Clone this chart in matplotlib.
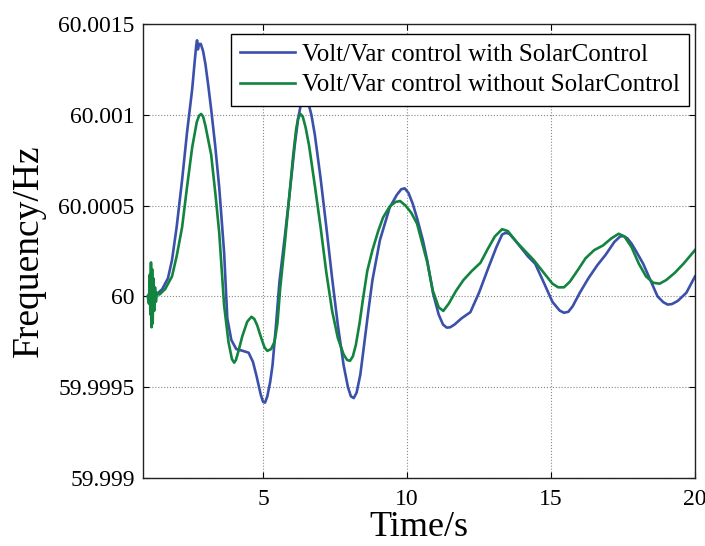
import matplotlib
matplotlib.use("Agg")
import matplotlib.pyplot as plt
from matplotlib.ticker import FixedLocator, FixedFormatter

plt.rcParams['font.family'] = ['Liberation Serif', 'DejaVu Serif']

# Frequency deviation from 60 Hz, in units of 1e-4 Hz
t_with = [1.0, 1.06, 1.1, 1.14, 1.2, 1.3, 1.5, 1.7, 1.84, 2.0, 2.19, 2.36, 2.54, 2.62, 2.68, 2.71,
          2.74, 2.78, 2.84, 2.92, 3.0, 3.1, 3.2, 3.34, 3.48, 3.65, 3.76, 3.9, 4.07, 4.3, 4.5,
          4.65, 4.77, 4.92, 5.0, 5.07, 5.15, 5.25, 5.33, 5.45, 5.57, 5.75, 5.92, 6.1, 6.22,
          6.33, 6.45, 6.55, 6.68, 6.8, 7.0, 7.2, 7.4, 7.6, 7.8, 7.95, 8.05, 8.15, 8.25, 8.38,
          8.5, 8.65, 8.8, 9.06, 9.4, 9.65, 9.8, 9.92, 10.05, 10.2, 10.35, 10.55, 10.7, 10.9,
          11.1, 11.25, 11.38, 11.5, 11.65, 11.9, 12.2, 12.5, 12.8, 13.1, 13.3, 13.42, 13.55,
          13.75, 13.9, 14.2, 14.45, 14.75, 15.05, 15.3, 15.45, 15.6, 15.75, 16.0, 16.3, 16.6,
          16.9, 17.2, 17.4, 17.52, 17.65, 17.8, 17.95, 18.2, 18.45, 18.7, 18.9, 19.05, 19.2,
          19.4, 19.7, 20.0]
d_with = [0.0, 0.2, -0.3, 0.3, -0.1, 0.1, 0.4, 1.0, 2.0, 3.8, 6.4, 9.0, 11.4, 12.8, 13.8, 14.1,
          13.6, 13.9, 13.9, 13.5, 12.8, 11.6, 10.3, 8.3, 6.0, 2.4, -1.2, -2.4, -2.9, -3.0, -3.1,
          -3.6, -4.35, -5.4, -5.8, -5.85, -5.5, -4.7, -3.8, -1.6, 0.8, 3.2, 5.6, 8.3, 9.8,
          10.7, 11.0, 10.8, 10.0, 8.9, 6.5, 3.8, 1.0, -1.6, -3.8, -5.0, -5.5, -5.6, -5.3, -4.3,
          -2.8, -0.9, 0.9, 3.1, 4.9, 5.6, 5.9, 5.95, 5.7, 5.1, 4.3, 3.1, 2.0, 0.2,
          -1.0, -1.55, -1.72, -1.7, -1.55, -1.2, -0.87, 0.2, 1.47, 2.7, 3.4, 3.5, 3.45,
          3.1, 2.8, 2.2, 1.8, 0.76, -0.3, -0.78, -0.9, -0.85, -0.55, 0.2, 1.0, 1.7,
          2.3, 3.0, 3.3, 3.32, 3.2, 2.9, 2.5, 1.8, 0.9, 0.0, -0.32, -0.45, -0.42,
          -0.25, 0.2, 1.1]

t_without = [1.0, 1.04, 1.07, 1.09, 1.11, 1.13, 1.15, 1.17, 1.19, 1.22, 1.25, 1.28, 1.32, 1.4,
             1.6, 1.84, 2.0, 2.19, 2.36, 2.54, 2.7, 2.78, 2.85, 2.92, 3.0, 3.2, 3.35, 3.48, 3.65,
             3.8, 3.92, 4.0, 4.06, 4.15, 4.28, 4.45, 4.5, 4.6, 4.7, 4.8, 4.94, 5.05, 5.15, 5.28,
             5.4, 5.5, 5.6, 5.75, 5.9, 6.05, 6.15, 6.22, 6.3, 6.38, 6.48, 6.6, 6.8, 7.0, 7.2,
             7.4, 7.6, 7.8, 7.92, 8.02, 8.12, 8.22, 8.35, 8.47, 8.62, 8.8, 9.0, 9.17, 9.4, 9.6,
             9.76, 9.95, 10.15, 10.35, 10.55, 10.7, 10.9, 11.1, 11.26, 11.45, 11.7, 11.96, 12.25,
             12.55, 12.8, 13.05, 13.3, 13.5, 13.8, 14.1, 14.4, 14.75, 15.05, 15.25, 15.45, 15.65,
             15.94, 16.2, 16.5, 16.8, 17.1, 17.35, 17.55, 17.8, 18.05, 18.3, 18.55, 18.77, 19.0,
             19.3, 19.6, 20.0]
d_without = [0.0, -0.4, 1.2, -1.0, 1.87, -1.7, 1.5, -1.5, 1.0, -0.8, 0.5, -0.3, 0.2, 0.1,
             0.4, 1.1, 2.2, 3.8, 6.0, 8.2, 9.6, 9.95, 10.05, 9.9, 9.4, 7.8, 5.6, 3.5, -0.5,
             -2.5, -3.45, -3.65, -3.5, -3.0, -2.2, -1.4, -1.3, -1.12, -1.25, -1.6, -2.3, -2.8,
             -3.0, -2.9, -2.5, -1.5, 0.5, 2.8, 5.3, 7.8, 9.2, 9.8, 10.05, 9.9, 9.3, 8.3, 6.1,
             3.8, 1.3, -0.8, -2.3, -3.2, -3.5, -3.55, -3.3, -2.7, -1.5, -0.16, 1.4, 2.55, 3.6,
             4.35, 4.95, 5.2, 5.25, 5.0, 4.6, 4.0, 2.8, 1.9, 0.3, -0.6, -0.8, -0.4, 0.3, 0.9,
             1.4, 1.85, 2.6, 3.3, 3.7, 3.6, 3.0, 2.5, 2.0, 1.3, 0.7, 0.5, 0.5, 0.8, 1.47, 2.1,
             2.55, 2.8, 3.2, 3.45, 3.3, 2.7, 1.8, 1.1, 0.75, 0.7, 0.9, 1.3, 1.8, 2.55]

labels = ['Volt/Var control with SolarControl', 'Volt/Var control without SolarControl']
x_ticks = [5, 10, 15, 20]
y_ticks = [59.999, 59.9995, 60.0, 60.0005, 60.001, 60.0015]
y_tick_labels = ['59.999', '59.9995', '60', '60.0005', '60.001', '60.0015']

f_with = [60.0 + v * 1e-4 for v in d_with]
f_without = [60.0 + v * 1e-4 for v in d_without]

fig = plt.figure(figsize=(7.05, 5.46), dpi=100)
ax = fig.add_axes([143/705, 1 - 478/546, 552/705, 454/546])

ax.plot(t_with, f_with, color='#3a50aa', lw=1.9, label=labels[0],
        solid_joinstyle='round')
ax.plot(t_without, f_without, color='#12843f', lw=1.9, label=labels[1],
        solid_joinstyle='round')

ax.set_xlim(0.833, 20)
ax.set_ylim(59.999, 60.0015)
ax.xaxis.set_major_locator(FixedLocator(x_ticks))
ax.yaxis.set_major_locator(FixedLocator(y_ticks))
ax.yaxis.set_major_formatter(FixedFormatter(y_tick_labels))
ax.grid(True, linestyle=':', color='#888888', lw=0.8)
ax.tick_params(direction='in', length=4, top=True, right=True, labelsize=17, width=0.8)
ax.tick_params(axis='y', pad=6)
ax.tick_params(axis='x', pad=8)
for s in ax.spines.values():
    s.set_linewidth(1.0)
    s.set_color('#222222')

ax.set_xlabel('Time/s', fontsize=26, labelpad=1)
ax.set_ylabel('Frequency/Hz', fontsize=27, labelpad=9)

leg = ax.legend(loc='upper right', bbox_to_anchor=(0.989, 0.978), borderaxespad=0,
                fontsize=18, frameon=True, fancybox=False, edgecolor='black',
                framealpha=1.0, handlelength=2.2, handletextpad=0.25, borderpad=0.38,
                labelspacing=0.32)
leg.get_frame().set_linewidth(1.0)

fig.savefig('out.png', dpi=100)
